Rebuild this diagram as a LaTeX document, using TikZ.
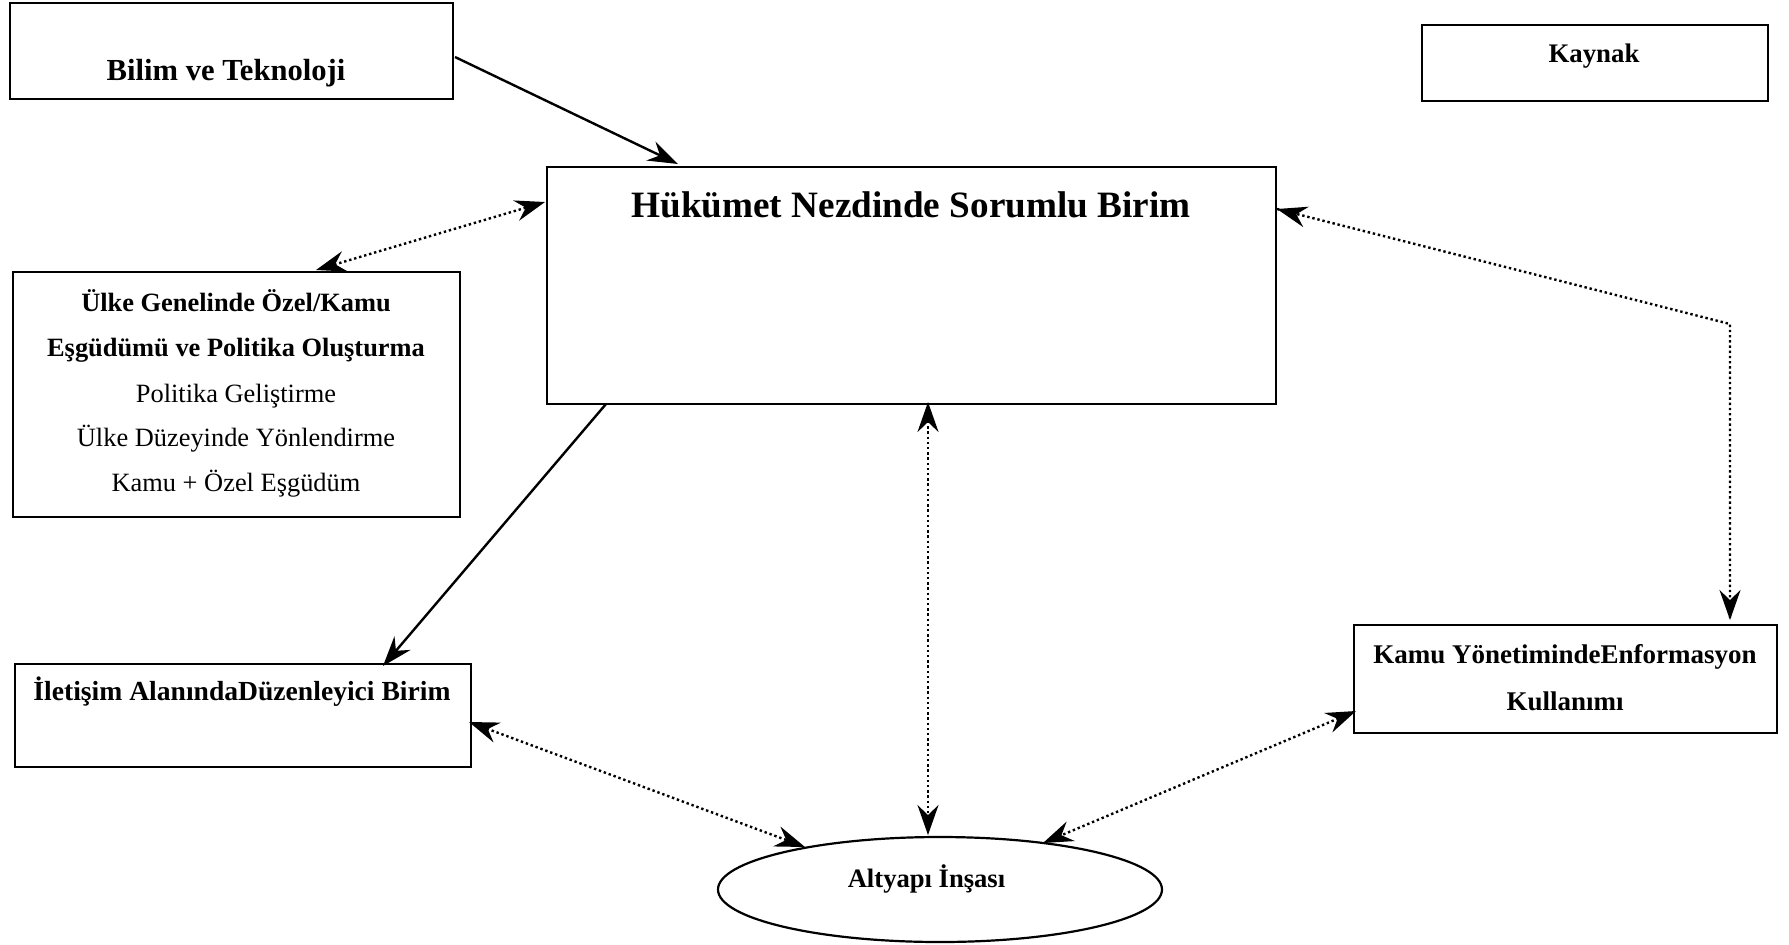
\documentclass[tikz,border=0pt]{standalone}
\usepackage{fontspec}
\setmainfont{Liberation Serif}
\usetikzlibrary{arrows.meta,calc,shapes.geometric}

\begin{document}
\begin{tikzpicture}[x=0.5pt,y=-0.5pt,
  box/.style 2 args={draw, line width=1.1pt, inner sep=0pt, outer sep=0pt,
    minimum width=#1*0.5pt, minimum height=#2*0.5pt},
  lbl/.style={anchor=base, inner sep=0pt, outer sep=0pt},
  tip/.tip={Stealth[length=15pt,width=10.5pt,inset=5pt]},
  solidarrow/.style={line width=1.2pt, -tip},
  dotarrow/.style={line width=1.2pt, dash pattern=on 1.2pt off 1.4pt, tip-tip},
  dotline/.style={line width=1.2pt, dash pattern=on 1.2pt off 1.4pt}]

\useasboundingbox (0,0) rectangle (1789,944);

% boxes
\node[box={443}{96}]  (bilim)    at (231.5,51)   {};
\node[box={346}{76}]  (kaynak)   at (1595,63)    {};
\node[box={729}{237}] (hukumet)  at (911.5,285.5) {};
\node[box={447}{245}] (ulke)     at (236.5,394.5) {};
\node[box={456}{103}] (iletisim) at (243,715.5)  {};
\node[box={423}{108}] (kamu)     at (1565.5,679) {};
\node[draw, ellipse, line width=1.1pt, inner sep=0pt, outer sep=0pt,
      minimum width=444*0.5pt, minimum height=105*0.5pt] (altyapi) at (940,889.5) {};

% texts
\node[lbl, font=\bfseries\fontsize{15.3}{18}\selectfont] (tbilim) at (226,80) {Bilim ve Teknoloji};
\node[lbl, font=\bfseries\fontsize{13.4}{16}\selectfont] (tkaynak) at (1594,62) {Kaynak};
\node[lbl, font=\bfseries\fontsize{18.6}{22}\selectfont] (thukumet) at (911,217) {Hükümet Nezdinde Sorumlu Birim};
\node[lbl, font=\bfseries\fontsize{13.2}{16}\selectfont] (tulke1) at (236,311) {Ülke Genelinde Özel/Kamu};
\node[lbl, font=\bfseries\fontsize{13.2}{16}\selectfont] (tulke2) at (236,356) {Eşgüdümü ve Politika Oluşturma};
\node[lbl, font=\fontsize{13.2}{16}\selectfont] (tulke3) at (236,402) {Politika Geliştirme};
\node[lbl, font=\fontsize{13.2}{16}\selectfont] (tulke4) at (236,446) {Ülke Düzeyinde Yönlendirme};
\node[lbl, font=\fontsize{13.2}{16}\selectfont] (tulke5) at (236,491) {Kamu + Özel Eşgüdüm};
\node[lbl, font=\bfseries\fontsize{13.8}{16}\selectfont] (tiletisim) at (242,700) {İletişim AlanındaDüzenleyici Birim};
\node[lbl, font=\bfseries\fontsize{13.5}{16}\selectfont] (tkamu1) at (1565,663) {Kamu YönetimindeEnformasyon};
\node[lbl, font=\bfseries\fontsize{13.5}{16}\selectfont] (tkamu2) at (1565,710) {Kullanımı};
\node[lbl, font=\bfseries\fontsize{13.3}{16}\selectfont] (taltyapi) at (926.5,887) {Altyapı İnşası};

% connectors
\draw[solidarrow] ($(bilim.north east)+(2,54)$) -- ($(hukumet.north west)+(131,-3)$);
\draw[dotarrow] ($(ulke.north west)+(303,-2)$) -- ($(hukumet.north west)+(-2,35)$);
\draw[solidarrow] ($(hukumet.south west)+(59,0)$) -- ($(iletisim.north west)+(368,2)$);
\draw[dotarrow] ($(hukumet.south west)+(381,-2)$) -- ($(altyapi.center)+(-12,-54.5)$);
\coordinate (bend) at (1730,324);
\draw[dotline] ($(hukumet.north east)+(1,42)$) -- (bend) -- ($(kamu.north west)+(376,-5)$);
\draw[-tip, line width=1.1pt] ($(hukumet.north east)+(12,45)$) -- ($(hukumet.north east)+(1,42)$);
\draw[-tip, line width=1.1pt] ($(kamu.north west)+(376,-16)$) -- ($(kamu.north west)+(376,-5)$);
\draw[dotarrow] ($(iletisim.east)+(-2,6.5)$) -- ($(altyapi.center)+(-135,-42.5)$);
\draw[dotarrow] ($(kamu.west)+(2,32)$) -- ($(altyapi.center)+(103,-46.5)$);
\end{tikzpicture}
\end{document}
